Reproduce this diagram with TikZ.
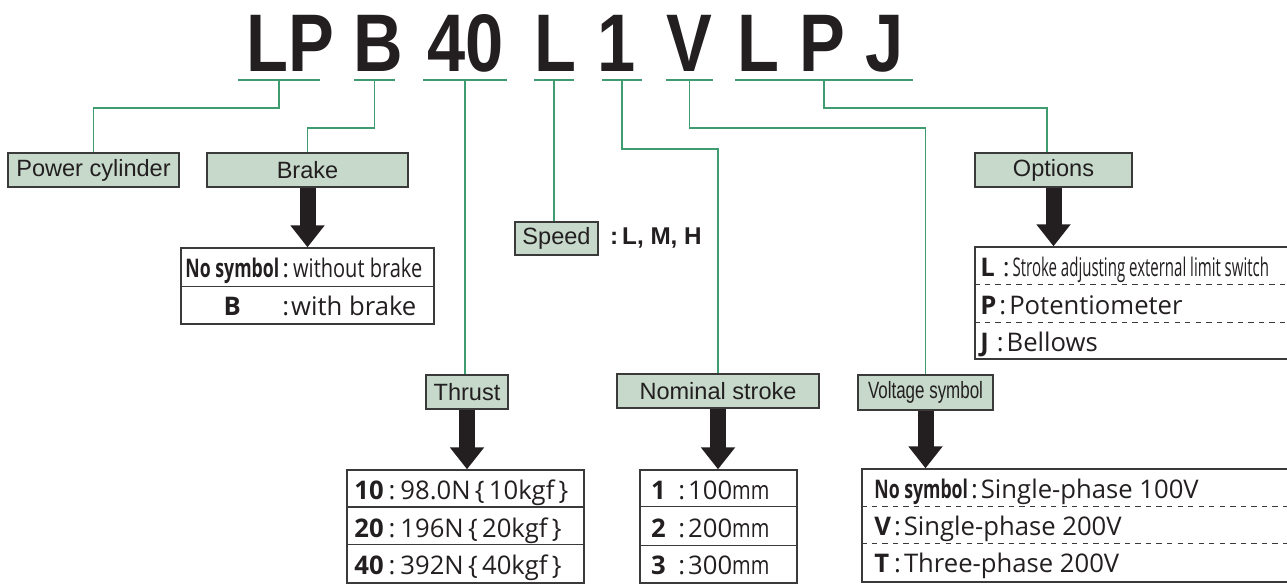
\documentclass[tikz,border=0pt]{standalone}
\usepackage{fontspec}
\setmainfont{Open Sans}
\newfontfamily\condfont[FakeStretch=0.78]{Open Sans}
\newfontfamily\condbold[FakeStretch=0.69]{Open Sans}
\newfontfamily\narrowfont[FakeStretch=0.585]{Open Sans}
\newfontfamily\helv{Liberation Sans}
\newfontfamily\helvcond[FakeStretch=0.72]{Liberation Sans}
\newfontfamily\codefont[FakeStretch=0.84]{Liberation Sans}
\usetikzlibrary{arrows.meta,calc,positioning,fit}
\definecolor{Ink}{HTML}{231F20}
\definecolor{Leaf}{HTML}{3F9B70}
\definecolor{Sage}{HTML}{C6D9CB}
\definecolor{Frame}{HTML}{3A3A3A}

\begin{document}
\begin{tikzpicture}[x=0.02cm,y=-0.02cm,every node/.style={text=Ink},code/.style={font=\codefont\bfseries\fontsize{46.5}{46}\selectfont,anchor=base,inner sep=0},bar/.style={draw=Leaf,line width=1.7pt},link/.style={draw=Leaf,line width=1.1pt},tagbox/.style={draw=Frame,fill=Sage,line width=0.9pt,inner sep=0,minimum height=0.68cm,font=\helv\fontsize{13.4}{13}\selectfont},bigarrow/.style={draw=Ink,line width=0.32cm,-{Triangle[width=0.66cm,length=0.44cm]}},tab/.style={draw=Frame,line width=0.8pt,inner sep=0},rule/.style={draw=Frame,line width=0.8pt},dashrule/.style={rule,dashed},row/.style={anchor=base west,inner sep=0,font=\fontsize{14.6}{15}\selectfont}]
\useasboundingbox (0,0) rectangle (1287,584);

% model code and its underlines
\foreach \t/\x [count=\i] in {LP/290,B/378,40/466,L/555,1/617,V/689,L/758,P/822,J/885} \node[code] (k\i) at (\x,72) {\t};
\foreach \a/\b/\n in {238/320/uLP,354/395/uB,423/507/u40,534/574/uL,602/642/u1,666/713/uV,735/913/uLPJ} {\draw[bar] (\a,80) -- (\b,80); \coordinate (\n) at ({(\a+\b)/2},80);}

% item boxes
\node[tagbox,minimum width=3.42cm] (pc) at (93.5,170) {Power cylinder};
\node[tagbox,minimum width=4.02cm] (brake) at (307.5,170) {Brake};
\node[tagbox,minimum width=1.66cm,minimum height=0.66cm] (speed) at (556.5,238.5) {Speed};
\node[anchor=west,inner sep=0,font=\helv\bfseries\fontsize{13.8}{14}\selectfont] (spv) [right=0.22cm of speed] {:\,L, M, H};
\node[tagbox,minimum width=3.14cm] (opt) at (1053.5,170) {Options};
\node[tagbox,minimum width=1.64cm] (thrust) at (467,392) {Thrust};
\node[tagbox,minimum width=4.04cm] (stroke) at (718,391) {Nominal stroke};
\node[tagbox,minimum width=2.7cm,minimum height=0.7cm,font=\helvcond\fontsize{13.4}{13}\selectfont] (volt) at (925.5,392.5) {Voltage symbol};

\draw[link] (uLP) -- ++(0,28) -| (pc.north);
\draw[link] (uB) -- ++(0,48) -| (brake.north);
\draw[link] (u40) -- (u40 |- thrust.north);
\draw[link] (uL) -- (uL |- speed.north);
\draw[link] (u1) -- ++(0,69) -| (stroke.north);
\draw[link] (uV) -- ++(0,48) -| (volt.north);
\draw[link] (uLPJ) -- ++(0,28) -| ([xshift=-0.13cm]opt.north);

% option tables
\node[tab,fit={(181,248) (434,324)}] (tbrake) {};
\draw[rule] (tbrake.north west) ++(0,39) -- ++(253,0);
\node[row] (b1) at (186,277) {\makebox[1.84cm]{\condbold\bfseries No symbol}\hspace{0.08cm}:\hspace{0.08cm}{\condfont without brake}};
\node[row] (b2) at (186,315) {\makebox[1.84cm]{\bfseries B}\hspace{0.08cm}:\hspace{0.04cm}with brake};

\node[tab,fit={(347,470) (584,583)}] (tthrust) {};
\draw[rule] (tthrust.north west) ++(0,37.5) -- ++(237,0); \draw[rule] (tthrust.north west) ++(0,75) -- ++(237,0);
\node[row] (t1) at (354,499) {{\bfseries 10}\hspace{0.1cm}:\hspace{0.1cm}98.0N\,\{\,10kgf\,\}};
\node[row] (t2) at (354,537) {{\bfseries 20}\hspace{0.1cm}:\hspace{0.1cm}196N\,\{\,20kgf\,\}};
\node[row] (t3) at (354,574) {{\bfseries 40}\hspace{0.1cm}:\hspace{0.1cm}392N\,\{\,40kgf\,\}};

\node[tab,fit={(640,470) (797,583)}] (tstroke) {};
\draw[rule] (tstroke.north west) ++(0,37) -- ++(157,0); \draw[rule] (tstroke.north west) ++(0,76) -- ++(157,0);
\node[row] (s1) at (646,499) {\makebox[0.48cm]{\bfseries 1}\hspace{0.16cm}:\hspace{0.06cm}100{\condfont mm}};
\node[row] (s2) at (646,537) {\makebox[0.48cm]{\bfseries 2}\hspace{0.16cm}:\hspace{0.06cm}200{\condfont mm}};
\node[row] (s3) at (646,574) {\makebox[0.48cm]{\bfseries 3}\hspace{0.16cm}:\hspace{0.06cm}300{\condfont mm}};

\node[tab,fit={(862,469) (1300,582)}] (tvolt) {};
\draw[dashrule] (tvolt.north west) ++(0,38) -- ++(438,0); \draw[dashrule] (tvolt.north west) ++(0,75) -- ++(438,0);
\node[row] (v1) at (874,498) {{\condbold\bfseries No symbol}\hspace{0.06cm}:\hspace{0.06cm}Single-phase 100V};
\node[row] (v2) at (874,535) {{\bfseries V}\hspace{0.06cm}:\hspace{0.06cm}Single-phase 200V};
\node[row] (v3) at (874,572) {{\bfseries T}\hspace{0.1cm}:\hspace{0.06cm}Three-phase 200V};

\node[tab,fit={(975,247) (1300,359)}] (topt) {};
\draw[dashrule] (topt.north west) ++(0,38) -- ++(325,0); \draw[dashrule] (topt.north west) ++(0,76) -- ++(325,0);
\node[row] (o1) at (980,276) {{\bfseries L}\hspace{0.16cm}:\hspace{0.06cm}{\narrowfont Stroke adjusting external limit switch}};
\node[row] (o2) at (980,314) {{\bfseries P}\hspace{0.06cm}:\hspace{0.06cm}Potentiometer};
\node[row] (o3) at (980,351) {{\bfseries J}\hspace{0.16cm}:\hspace{0.06cm}Bellows};

% big arrows
\draw[bigarrow] (brake.south) -- (brake.south |- tbrake.north);
\draw[bigarrow] (thrust.south) -- (thrust.south |- tthrust.north);
\draw[bigarrow] (stroke.south) -- (stroke.south |- tstroke.north);
\draw[bigarrow] (volt.south) -- (volt.south |- tvolt.north);
\draw[bigarrow] (opt.south) -- (opt.south |- topt.north);

\end{tikzpicture}
\end{document}
